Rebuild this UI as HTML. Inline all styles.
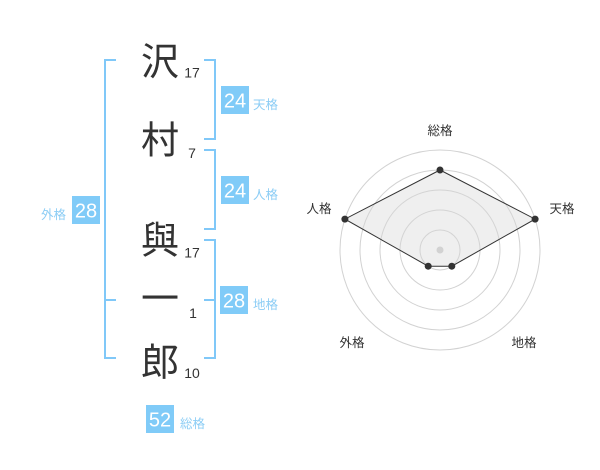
<!DOCTYPE html>
<html><head><meta charset="utf-8"><style>
html,body{margin:0;padding:0;background:#fff;width:600px;height:470px;overflow:hidden}
svg{display:block}
.k{font-family:"Noto Sans CJK JP","Noto Sans CJK SC",sans-serif;font-size:38px;fill:#333;text-anchor:middle}
.n{font-family:"Liberation Sans",sans-serif;font-size:14px;fill:#333;text-anchor:middle}
.b{font-family:"Liberation Sans",sans-serif;font-size:20px;fill:#fff;text-anchor:middle}
.l{font-family:"Liberation Sans","Noto Sans CJK JP",sans-serif;font-size:12.5px;fill:#8ccdf5}
.r{font-family:"Liberation Sans","Noto Sans CJK JP",sans-serif;font-size:12.5px;fill:#333;text-anchor:middle}
</style></head><body>
<svg width="600" height="470" viewBox="0 0 600 470" xmlns="http://www.w3.org/2000/svg">
<g fill="none" stroke="#80c8f8" stroke-width="2">
<path d="M116,60 H105 V358 H116 M105,300 H116"/>
<path d="M204,60 H215 V139 H204"/>
<path d="M204,150 H215 V229 H204"/>
<path d="M204,240 H215 V358 H204 M204,300 H215"/>
</g>
<text class="k" x="160" y="75">沢</text>
<text class="k" x="160" y="153.5">村</text>
<text class="k" x="160" y="253.5">與</text>
<text class="k" x="160" y="312">一</text>
<text class="k" x="160" y="375.5">郎</text>
<text class="n" x="192" y="77.5">17</text>
<text class="n" x="192" y="158">7</text>
<text class="n" x="192" y="257.5">17</text>
<text class="n" x="193" y="318">1</text>
<text class="n" x="192" y="378">10</text>
<g fill="#80cbf8">
<rect x="221" y="86" width="28" height="28"/>
<rect x="221" y="176" width="28" height="28"/>
<rect x="220" y="286" width="28" height="28"/>
<rect x="72" y="196" width="28" height="28"/>
<rect x="146" y="405" width="28" height="28"/>
</g>
<text class="b" x="235" y="107.5">24</text>
<text class="b" x="235" y="197.5">24</text>
<text class="b" x="234" y="307.5">28</text>
<text class="b" x="86" y="217.5">28</text>
<text class="b" x="160" y="426.5">52</text>
<text class="l" x="253" y="109">天格</text>
<text class="l" x="253" y="199">人格</text>
<text class="l" x="253" y="309">地格</text>
<text class="l" x="41" y="219">外格</text>
<text class="l" x="180" y="428">総格</text>
<g fill="none" stroke="#d2d2d2" stroke-width="1">
<circle cx="440" cy="250" r="20"/>
<circle cx="440" cy="250" r="40"/>
<circle cx="440" cy="250" r="60"/>
<circle cx="440" cy="250" r="80"/>
<circle cx="440" cy="250" r="100"/>
</g>
<circle cx="440" cy="250" r="3.5" fill="#cfcfcf"/>
<polygon points="440,170 535.1,219.1 451.8,266.2 428.2,266.2 344.9,219.1" fill="#d8d8d8" fill-opacity="0.4" stroke="#333" stroke-width="1"/>
<g fill="#333">
<circle cx="440" cy="170" r="3.5"/>
<circle cx="535.1" cy="219.1" r="3.5"/>
<circle cx="451.8" cy="266.2" r="3.5"/>
<circle cx="428.2" cy="266.2" r="3.5"/>
<circle cx="344.9" cy="219.1" r="3.5"/>
</g>
<text class="r" x="440" y="135">総格</text>
<text class="r" x="562" y="213">天格</text>
<text class="r" x="319" y="213">人格</text>
<text class="r" x="352" y="347">外格</text>
<text class="r" x="524" y="347">地格</text>
</svg>
</body></html>
